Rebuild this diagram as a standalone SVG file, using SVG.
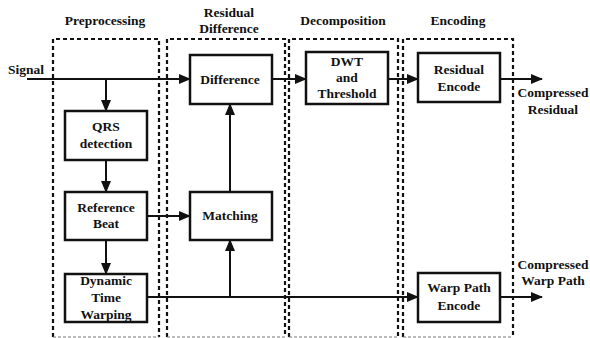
<svg xmlns="http://www.w3.org/2000/svg" width="590" height="338" viewBox="0 0 590 338" font-family="'Liberation Serif', 'DejaVu Serif', serif" font-weight="bold" font-size="13.5">
<style>
text{font-family:'Liberation Serif','DejaVu Serif',serif;font-weight:bold;font-size:13.5px;fill:#111;text-anchor:middle}
.box{fill:#fff;stroke:#111;stroke-width:2.5}
.ln{fill:none;stroke:#111;stroke-width:2}
.grp{fill:none;stroke:#111;stroke-width:2.2;stroke-dasharray:4 3}
.bot{fill:none;stroke:#777;stroke-width:1;stroke-dasharray:3 2}
</style>
<defs>
<marker id="ah" markerUnits="userSpaceOnUse" markerWidth="12" markerHeight="10" refX="11" refY="5" orient="auto">
<path d="M0,0 L12,5 L0,10 Z" fill="#111"/>
</marker>
</defs>
<g id="groups">
<path class="grp" d="M53,337 V39 H159 V337"/>
<path class="bot" d="M53,337 H159"/>
<path class="grp" d="M167,337 V39 H285 V337"/>
<path class="bot" d="M167,337 H285"/>
<path class="grp" d="M289,337 V39 H398 V337"/>
<path class="bot" d="M289,337 H398"/>
<path class="grp" d="M403,337 V39 H513 V337"/>
<path class="bot" d="M403,337 H513"/>
<text x="105" y="25">Preprocessing</text>
<text x="229" y="17">Residual</text>
<text x="229" y="33">Difference</text>
<text x="343" y="25">Decomposition</text>
<text x="458" y="25">Encoding</text>
</g>
<g id="connectors">
<path class="ln" d="M27,79 H190" marker-end="url(#ah)"/>
<path class="ln" d="M106,79 V111" marker-end="url(#ah)"/>
<path class="ln" d="M106,160 V192" marker-end="url(#ah)"/>
<path class="ln" d="M106,240 V274" marker-end="url(#ah)"/>
<path class="ln" d="M147,216 H190" marker-end="url(#ah)"/>
<path class="ln" d="M230,192 V104" marker-end="url(#ah)"/>
<path class="ln" d="M147,297 H418" marker-end="url(#ah)"/>
<path class="ln" d="M230,297 V240" marker-end="url(#ah)"/>
<path class="ln" d="M272,79 H306" marker-end="url(#ah)"/>
<path class="ln" d="M388,79 H418" marker-end="url(#ah)"/>
<path class="ln" d="M500,79 H542" marker-end="url(#ah)"/>
<path class="ln" d="M500,297 H542" marker-end="url(#ah)"/>
</g>
<g id="signal"><text x="26" y="74">Signal</text></g>
<g id="qrs"><rect class="box" x="65" y="111" width="82" height="49"/><text x="106" y="131">QRS</text><text x="106" y="148">detection</text></g>
<g id="refbeat"><rect class="box" x="65" y="192" width="82" height="48"/><text x="106" y="212">Reference</text><text x="106" y="228">Beat</text></g>
<g id="dtw"><rect class="box" x="65" y="274" width="82" height="48"/><text x="106" y="285">Dynamic</text><text x="106" y="302">Time</text><text x="106" y="319">Warping</text></g>
<g id="difference"><rect class="box" x="190" y="55" width="82" height="49"/><text x="230" y="84">Difference</text></g>
<g id="matching"><rect class="box" x="190" y="192" width="82" height="48"/><text x="230" y="220">Matching</text></g>
<g id="dwt"><rect class="box" x="306" y="52" width="82" height="52"/><text x="347" y="66">DWT</text><text x="347" y="82">and</text><text x="347" y="98">Threshold</text></g>
<g id="resenc"><rect class="box" x="418" y="53" width="82" height="49"/><text x="459" y="74">Residual</text><text x="459" y="91">Encode</text></g>
<g id="warpenc"><rect class="box" x="418" y="273" width="82" height="49"/><text x="459" y="292">Warp Path</text><text x="459" y="310">Encode</text></g>
<g id="outres"><text x="553" y="97">Compressed</text><text x="553" y="114">Residual</text></g>
<g id="outwarp"><text x="553" y="269">Compressed</text><text x="553" y="285">Warp Path</text></g>
</svg>
